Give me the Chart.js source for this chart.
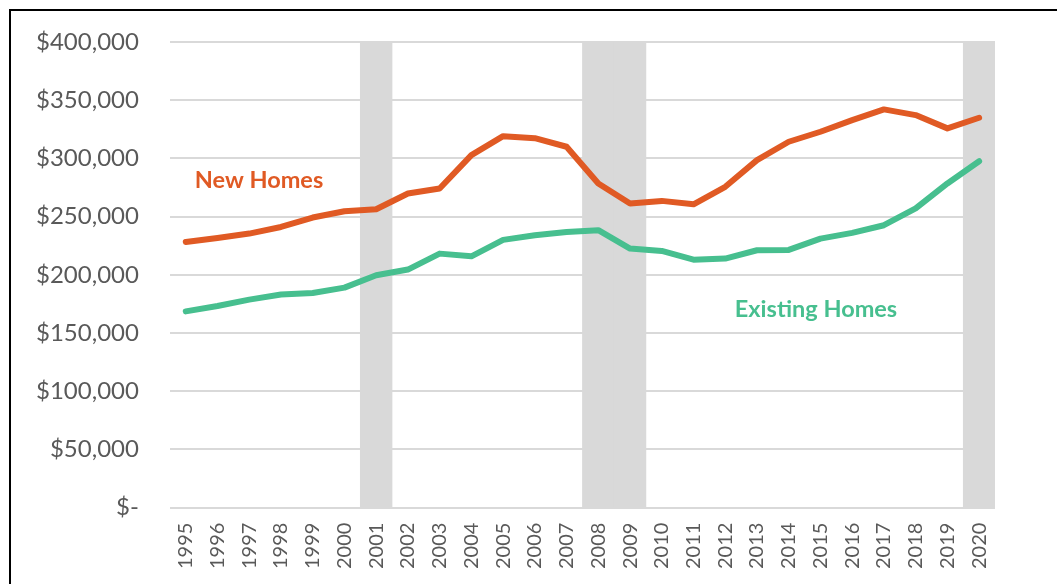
<!DOCTYPE html>
<html>
<head>
<meta charset="utf-8">
<script src="https://cdn.jsdelivr.net/npm/chart.js@4"></script>
<style>
  html, body { margin: 0; padding: 0; background: #fff; }
  #wrap { position: relative; width: 1057px; height: 584px; overflow: hidden; }
  #frame { position: absolute; left: 9px; top: 9px; width: 1100px; height: 700px; border-top: 2px solid #000; border-left: 2px solid #000; box-sizing: border-box; }
  canvas { position: absolute; left: 0; top: 0; }
</style>
</head>
<body>
<div id="wrap">
  <canvas id="c" width="1057" height="584"></canvas>
  <div id="frame"></div>
</div>
<script>
const years = ['1995','1996','1997','1998','1999','2000','2001','2002','2003','2004','2005','2006','2007','2008','2009','2010','2011','2012','2013','2014','2015','2016','2017','2018','2019','2020'];
const newHomes = [228200, 231700, 235400, 241100, 249200, 254600, 256300, 269800, 274100, 302800, 319100, 317400, 310000, 278500, 261300, 263500, 260600, 275600, 298500, 314300, 322900, 332900, 342100, 337200, 325800, 334900];
const existingHomes = [168600, 173200, 178700, 183000, 184400, 189000, 199600, 204500, 218200, 215900, 230000, 234000, 236800, 238300, 222500, 220500, 213000, 213900, 221100, 221400, 231100, 236000, 242600, 257000, 278500, 297600];
const recessionYears = ['2001','2008','2009','2020'];
const recessionTop = 400000;
const yTicks = [0, 50000, 100000, 150000, 200000, 250000, 300000, 350000, 400000];

const recession = years.map(y => recessionYears.includes(y) ? recessionTop : null);

const labelPlugin = {
  id: 'seriesLabels',
  afterDatasetsDraw(chart) {
    const ctx = chart.ctx;
    ctx.save();
    ctx.font = 'bold 23.5px Lato';
    ctx.textAlign = 'center';
    ctx.textBaseline = 'middle';
    ctx.fillStyle = '#E05A24';
    ctx.fillText('New Homes', 259, 180);
    ctx.fillStyle = '#47BF8F';
    ctx.fillText('Existing Homes', 816, 309);
    ctx.restore();
  }
};

new Chart(document.getElementById('c'), {
  data: {
    labels: years,
    datasets: [
      {
        type: 'line', label: 'New Homes', data: newHomes,
        borderColor: '#E05A24', borderWidth: 6, pointRadius: 0,
        borderCapStyle: 'round', borderJoinStyle: 'round', tension: 0, order: 1
      },
      {
        type: 'line', label: 'Existing Homes', data: existingHomes,
        borderColor: '#47BF8F', borderWidth: 6, pointRadius: 0,
        borderCapStyle: 'round', borderJoinStyle: 'round', tension: 0, order: 1
      },
      {
        type: 'bar', label: 'Recession', data: recession,
        backgroundColor: '#D9D9D9', borderWidth: 0,
        barPercentage: 1, categoryPercentage: 1, order: 2
      }
    ]
  },
  options: {
    responsive: false,
    animation: false,
    layout: { padding: { left: 5, right: 62, top: 42, bottom: 0 } },
    plugins: { legend: { display: false }, tooltip: { enabled: false } },
    scales: {
      x: {
        grid: { display: false, drawTicks: false },
        border: { display: false },
        ticks: {
          minRotation: 90, maxRotation: 90, autoSkip: false, padding: 15,
          color: '#595959', font: { family: 'Lato', size: 20 }
        }
      },
      y: {
        min: 0, max: 400000,
        afterBuildTicks(axis) { axis.ticks = yTicks.map(v => ({ value: v })); },
        afterFit(axis) { axis.paddingTop = 0; },
        grid: { color: '#D9D9D9', lineWidth: 2, drawTicks: false },
        border: { display: false },
        ticks: {
          padding: 31, color: '#595959', font: { family: 'Lato', size: 24 },
          callback: v => v === 0 ? '$-' : '$' + v.toLocaleString('en-US')
        }
      }
    }
  },
  plugins: [labelPlugin]
});
</script>
</body>
</html>
